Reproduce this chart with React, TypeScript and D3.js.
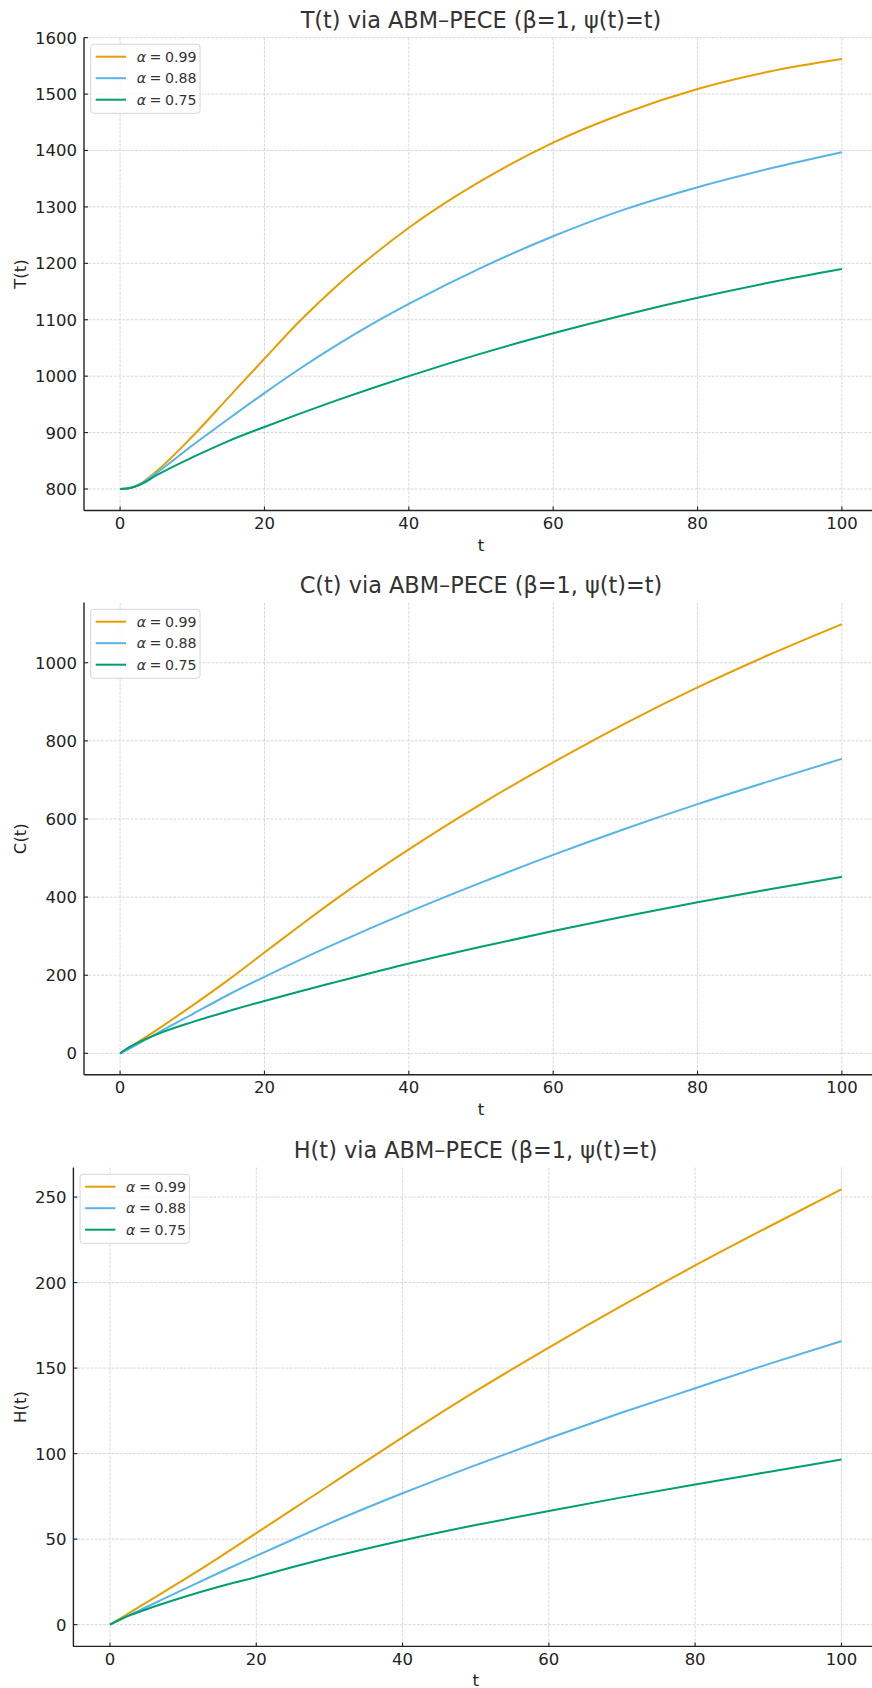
import * as d3 from "d3";

// t grids
const tT = [0, 1, 2, 3, 5, 10, 15, 20, 25, 30, 35, 40, 50, 60, 70, 80, 90, 100];
const tCH = [0, 1, 2, 5, 10, 15, 20, 25, 30, 40, 50, 60, 70, 80, 90, 100];

const alphas = ["0.99", "0.88", "0.75"];
const colors = ["#E69F00", "#56B4E9", "#009E73"];

// T(t)
const T99 = [800, 801, 804, 811, 831, 893, 962, 1031, 1099, 1160, 1214, 1263, 1346, 1414, 1467, 1509, 1540, 1562];
const T88 = [800, 801, 804, 810, 828, 877, 924, 970, 1014, 1055, 1093, 1128, 1192, 1248, 1296, 1335, 1368, 1397];
const T75 = [800, 801, 804, 809, 824, 856, 885, 910, 934, 957, 979, 1000, 1040, 1076, 1109, 1139, 1166, 1190];

// C(t)
const C99 = [0, 11, 23, 59, 122, 188, 258, 328, 396, 522, 638, 745, 845, 937, 1021, 1099];
const C88 = [0, 9, 19, 50, 100, 150, 196, 240, 282, 362, 437, 508, 575, 638, 697, 754];
const C75 = [0, 13, 23, 48, 80, 108, 134, 159, 183, 230, 273, 313, 351, 387, 420, 452];

// H(t)
const H99 = [0, 2.6, 5.2, 13, 26, 39.5, 53.5, 67.5, 81.5, 109.5, 136.5, 162, 186.5, 210, 232.5, 254.5];
const H88 = [0, 2.1, 4.2, 10.3, 20.5, 30.5, 40.2, 49.8, 59.2, 76.8, 93.3, 109, 124, 138.2, 152.3, 165.8];
const H75 = [0, 2.2, 4.2, 9, 16, 22.3, 27.8, 33.7, 39.2, 49.2, 58.2, 66.5, 74.4, 82, 89.3, 96.5];

const xTicks = [0, 20, 40, 60, 80, 100];
const yTicksT = [800, 900, 1000, 1100, 1200, 1300, 1400, 1500, 1600];
const yTicksC = [0, 200, 400, 600, 800, 1000];
const yTicksH = [0, 50, 100, 150, 200, 250];

const W = 872;
const H = 1688;
const FONT = "DejaVu Sans, sans-serif";

const panels = [
  { title: "T(t) via ABM–PECE (β=1, ψ(t)=t)", ylabel: "T(t)", t: tT, series: [T99, T88, T75], yTicks: yTicksT, top: 37.6, bottom: 510.5, left: 84 },
  { title: "C(t) via ABM–PECE (β=1, ψ(t)=t)", ylabel: "C(t)", t: tCH, series: [C99, C88, C75], yTicks: yTicksC, top: 602.6, bottom: 1074.8, left: 84 },
  { title: "H(t) via ABM–PECE (β=1, ψ(t)=t)", ylabel: "H(t)", t: tCH, series: [H99, H88, H75], yTicks: yTicksH, top: 1167.6, bottom: 1646.4, left: 73.4 },
];

function Panel({ p }: { p: any }) {
  const xPad = 5;
  const x = d3.scaleLinear().domain([-xPad, 100 + xPad]).range([p.left, 878]);
  const all = p.series.flat();
  const [lo, hi] = d3.extent(all) as [number, number];
  const pad = (hi - lo) * 0.05;
  const y = d3.scaleLinear().domain([lo - pad, hi + pad]).range([p.bottom, p.top]);
  const line = d3
    .line<number>()
    .x((_, i) => x(p.t[i]))
    .y((d) => y(d))
    .curve(d3.curveMonotoneX);

  const gridStyle = { stroke: "#cfcfcf", strokeWidth: 0.8, strokeDasharray: "2.96,1.28" };
  const legX = p.left + 6.7;
  const legY = p.top + 6.7;

  return (
    <g>
      {/* grid */}
      {xTicks.map((v) => (
        <line key={"gx" + v} x1={x(v)} x2={x(v)} y1={p.top} y2={p.bottom} {...gridStyle} />
      ))}
      {p.yTicks.map((v: number) => (
        <line key={"gy" + v} x1={p.left} x2={878} y1={y(v)} y2={y(v)} {...gridStyle} />
      ))}

      {/* curves */}
      {p.series.map((s: number[], i: number) => (
        <path key={"s" + i} d={line(s) || ""} fill="none" stroke={colors[i]} strokeWidth={2} />
      ))}

      {/* spines */}
      <line x1={p.left} x2={p.left} y1={p.top} y2={p.bottom} stroke="#222" strokeWidth={1.4} />
      <line x1={p.left} x2={878} y1={p.bottom} y2={p.bottom} stroke="#222" strokeWidth={1.4} />

      {/* x ticks */}
      {xTicks.map((v) => (
        <g key={"xt" + v}>
          <line x1={x(v)} x2={x(v)} y1={p.bottom} y2={p.bottom - 4} stroke="#222" strokeWidth={1.1} />
          <text x={x(v)} y={p.bottom + 18.5} textAnchor="middle" fontSize={16.5} fill="#222" fontFamily={FONT}>
            {v}
          </text>
        </g>
      ))}
      {/* y ticks */}
      {p.yTicks.map((v: number) => (
        <g key={"yt" + v}>
          <line x1={p.left} x2={p.left + 4} y1={y(v)} y2={y(v)} stroke="#222" strokeWidth={1.1} />
          <text x={p.left - 7} y={y(v)} dy="0.36em" textAnchor="end" fontSize={16.5} fill="#222" fontFamily={FONT}>
            {v}
          </text>
        </g>
      ))}

      {/* labels */}
      <text x={(p.left + 878) / 2} y={p.top - 10} textAnchor="middle" fontSize={22.4} fill="#333" fontFamily={FONT}>
        {p.title}
      </text>
      <text x={(p.left + 878) / 2} y={p.bottom + 40} textAnchor="middle" fontSize={16.5} fill="#222" fontFamily={FONT}>
        t
      </text>
      <text
        transform={`translate(25.5, ${(p.top + p.bottom) / 2}) rotate(-90)`}
        textAnchor="middle"
        fontSize={16.5}
        fill="#222"
        fontFamily={FONT}
      >
        {p.ylabel}
      </text>

      {/* legend */}
      <rect x={legX} y={legY} width={109.3} height={69} rx={3} fill="#fff" fillOpacity={0.8} stroke="#d6d6d6" strokeWidth={1} />
      {alphas.map((a, i) => {
        const ry = legY + 12.4 + i * 21.5;
        return (
          <g key={"lg" + a}>
            <line x1={legX + 5} x2={legX + 35.3} y1={ry} y2={ry} stroke={colors[i]} strokeWidth={2} />
            <text x={legX + 46} y={ry} dy="0.36em" fontSize={14.2} fill="#333" fontFamily={FONT}>
              <tspan fontStyle="italic">α</tspan>
              <tspan>{"\u2005=\u2005" + a}</tspan>
            </text>
          </g>
        );
      })}
    </g>
  );
}

export default function App() {
  return (
    <svg
      width={W}
      height={H}
      viewBox={`0 0 ${W} ${H}`}
      style={{ position: "absolute", left: 0, top: 0, display: "block", background: "#fff" }}
    >
      <rect x={0} y={0} width={W} height={H} fill="#fff" />
      {panels.map((p, i) => (
        <Panel key={i} p={p} />
      ))}
    </svg>
  );
}
